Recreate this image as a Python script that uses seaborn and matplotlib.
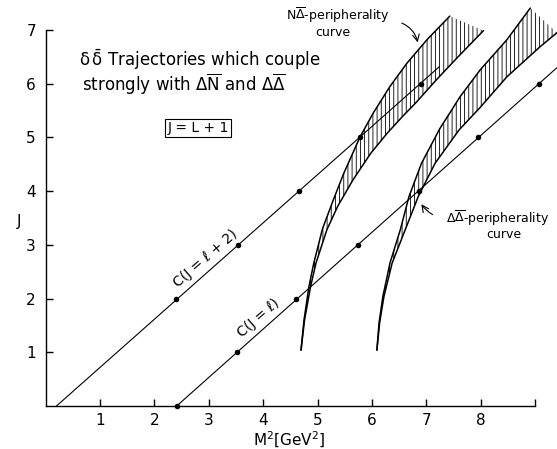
import numpy as np
import pandas as pd
import seaborn as sns
import matplotlib.pyplot as plt

# C(J = l + 2) trajectory: straight line ends and resonance dots
c2_line_m2 = [0.20, 7.24]
c2_line_j = [0.0, 6.32]
c2_dot_m2 = [2.40, 3.53, 4.65, 5.78, 6.90]
c2_dot_j = [2, 3, 4, 5, 6]

# C(J = l) trajectory
c0_line_m2 = [2.41, 9.60]
c0_line_j = [0.0, 6.48]
c0_dot_m2 = [2.41, 3.51, 4.60, 5.75, 6.87, 7.95, 9.07]
c0_dot_j = [0, 1, 2, 3, 4, 5, 6]

# N Delta-bar peripherality band (left / right edges)
nd_left_m2 = [4.695, 4.75, 4.84, 4.93, 5.09, 5.29, 5.48, 5.78, 6.02, 6.33, 6.64, 7.01, 7.43]
nd_left_j = [1.04, 1.60, 2.22, 2.66, 3.30, 3.84, 4.33, 5.01, 5.45, 5.95, 6.38, 6.82, 7.26]
nd_right_m2 = [4.695, 4.76, 4.87, 4.97, 5.17, 5.37, 5.65, 5.98, 6.28, 6.56, 6.80, 7.18, 7.58, 8.05]
nd_right_j = [1.04, 1.60, 2.22, 2.66, 3.28, 3.72, 4.21, 4.71, 5.08, 5.39, 5.64, 6.07, 6.50, 6.99]

# Delta Delta-bar peripherality band
dd_left_m2 = [6.09, 6.13, 6.20, 6.33, 6.52, 6.68, 6.91, 7.25, 7.62, 7.99, 8.48, 8.91]
dd_left_j = [1.04, 1.55, 2.04, 2.66, 3.28, 3.90, 4.52, 5.17, 5.76, 6.26, 6.82, 7.41]
dd_right_m2 = [6.09, 6.14, 6.22, 6.37, 6.61, 6.85, 7.16, 7.60, 7.98, 8.48, 9.09, 9.40]
dd_right_j = [1.04, 1.55, 2.04, 2.66, 3.28, 3.90, 4.52, 5.14, 5.55, 6.13, 6.69, 6.95]

x_ticks = [1, 2, 3, 4, 5, 6, 7, 8, 9]
x_tick_labels = ['1', '2', '3', '4', '5', '6', '7', '8', '']
y_ticks = [1, 2, 3, 4, 5, 6, 7]

sns.set_theme(style='ticks')
plt.rcParams['font.family'] = ['DejaVu Sans']
plt.rcParams['mathtext.fontset'] = 'dejavusans'
plt.rcParams['hatch.linewidth'] = 0.6
plt.rcParams['text.color'] = 'black'
plt.rcParams['axes.labelcolor'] = 'black'

fig = plt.figure(figsize=(5.57, 4.49), dpi=100)
ax = fig.add_axes([0.0819, 0.0958, 0.918, 0.897])

k = 'black'

# hatched bands
for lx, ly, rx, ry in [(nd_left_m2, nd_left_j, nd_right_m2, nd_right_j),
                       (dd_left_m2, dd_left_j, dd_right_m2, dd_right_j)]:
    px = list(lx) + list(rx)[::-1]
    py = list(ly) + list(ry)[::-1]
    ax.fill(px, py, facecolor='none', edgecolor=k, linewidth=0, hatch='||||')
    ax.plot(lx, ly, color=k, lw=1.1)
    ax.plot(rx, ry, color=k, lw=1.1)

# trajectories
sns.lineplot(x=c2_line_m2, y=c2_line_j, ax=ax, color=k, lw=0.8)
sns.lineplot(x=c0_line_m2, y=c0_line_j, ax=ax, color=k, lw=0.8)
sns.scatterplot(x=c2_dot_m2, y=c2_dot_j, ax=ax, color=k, s=16, linewidth=0, zorder=5, clip_on=False)
sns.scatterplot(x=c0_dot_m2, y=c0_dot_j, ax=ax, color=k, s=16, linewidth=0, zorder=5, clip_on=False)

ax.set_xlim(0, 9.4)
ax.set_ylim(0, 7.5)
ax.set_xticks(x_ticks)
ax.set_xticklabels(x_tick_labels)
ax.set_yticks(y_ticks)
ax.tick_params(direction='in', length=5, width=1, labelsize=11, colors=k)
ax.tick_params(axis='x', pad=5)
ax.tick_params(axis='y', pad=7)
sns.despine(ax=ax)
ax.spines['left'].set_bounds(0, 7)
ax.spines['bottom'].set_bounds(0, 9)
for s in ['left', 'bottom']:
    ax.spines[s].set_color(k)
    ax.spines[s].set_linewidth(1.0)

ax.set_xlabel(r'M$^2$[GeV$^2$]', fontsize=11, color=k, va='center')
ax.xaxis.set_label_coords(4.47 / 9.4, -0.085)
ax.set_ylabel('J', fontsize=11, color=k, rotation=0, va='center')
ax.yaxis.set_label_coords(-0.052, 3.43 / 7.5)

# annotations
ax.text(0.61, 6.45, r'$\mathrm{\delta}\,\bar{\mathrm{\delta}}$ Trajectories which couple',
        fontsize=12, va='center', ha='left')
ax.text(0.66, 5.98, r'strongly with $\Delta\overline{\mathrm{N}}$ and $\Delta\overline{\Delta}$',
        fontsize=12, va='center', ha='left')
ax.text(2.8, 5.17, 'J = L + 1', fontsize=10, ha='center', va='center',
        bbox=dict(boxstyle='square,pad=0.15', facecolor='white', edgecolor=k, lw=0.8))

ax.text(2.94, 2.74, 'C(J = ℓ + 2)', fontsize=10, rotation=41, ha='center', va='center')
ax.text(3.91, 1.63, 'C(J = ℓ)', fontsize=10, rotation=41, ha='center', va='center')

ax.text(5.38, 7.28, r'$\mathrm{N}\overline{\Delta}$-peripherality', fontsize=9,
        ha='center', va='center', clip_on=False)
ax.text(5.28, 6.95, 'curve', fontsize=9, ha='center', va='center')
ax.annotate('', xy=(6.85, 6.72), xytext=(6.5, 7.15),
            arrowprops=dict(arrowstyle='->', color=k, lw=0.8,
                            connectionstyle='arc3,rad=-0.3'))

ax.text(8.3, 3.49, r'$\Delta\overline{\Delta}$-peripherality', fontsize=9,
        ha='center', va='center')
ax.text(8.43, 3.19, 'curve', fontsize=9, ha='center', va='center')
ax.annotate('', xy=(6.88, 3.80), xytext=(7.16, 3.54),
            arrowprops=dict(arrowstyle='->', color=k, lw=0.8,
                            connectionstyle='arc3,rad=-0.15'))

fig.savefig('out.png', dpi=100)
